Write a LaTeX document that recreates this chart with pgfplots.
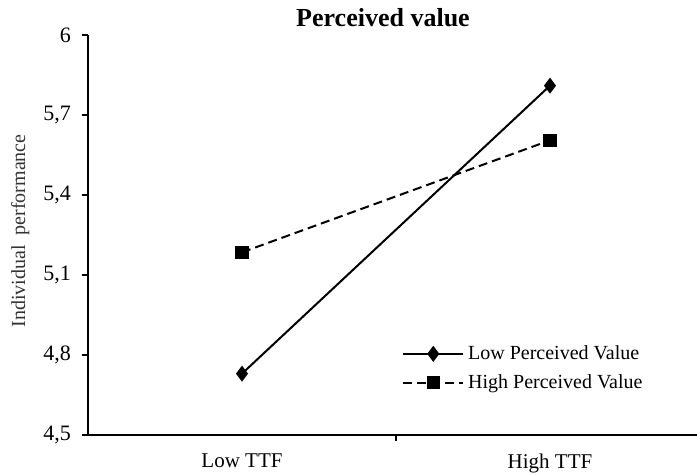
\documentclass[border=0pt]{standalone}
\usepackage{fontspec}
\setmainfont{Liberation Serif}
\usepackage{pgfplots}
\pgfplotsset{compat=1.18}
\begin{document}
\begin{tikzpicture}
\begin{axis}[
  name=ax,
  scale only axis,
  width=308pt, height=200pt,
  xmin=0.5, xmax=2.5,
  ymin=4.5, ymax=6,
  axis lines*=left,
  axis line style={line width=0.6pt},
  xtick={1,2},
  xticklabels={Low TTF, High TTF},
  minor xtick={1.5},
  major x tick style={draw=none},
  minor x tick style={black, line width=0.6pt},
  minor tick length=3pt,
  ytick={4.5,4.8,5.1,5.4,5.7,6},
  y tick style={black, line width=0.6pt},
  major tick length=3pt,
  tick align=outside,
  /pgf/number format/.cd, use comma, fixed, precision=1, assume math mode=true,
  /pgfplots/.cd,
  yticklabel style={font=\fontsize{11}{13}\selectfont, xshift=-2pt},
  xticklabel style={font=\fontsize{10.5}{12}\selectfont, yshift=-3pt},
  ylabel={Individual\ \ performance},
  ylabel style={at={(axis description cs:-0.11,0.51)}, anchor=center, font=\fontsize{10}{12}\selectfont, text=black!80},
  title={Perceived value},
  title style={at={(axis description cs:0.5,1)}, xshift=-6.5pt, yshift=-2pt, anchor=base, font=\bfseries\fontsize{13}{15}\selectfont},
  legend style={at={(axis description cs:0.5,0.245)}, anchor=north west, draw=none, fill=none, font=\fontsize{10}{12}\selectfont, row sep=2pt},
  legend cell align=left,
  legend image code/.code={\draw[mark repeat=2,mark phase=2,#1] plot coordinates {(0cm,0cm) (0.525cm,0cm) (1.05cm,0cm)};},
]
\addplot[black, line width=1pt, mark=diamond*, mark size=3.2pt, mark options={solid}] coordinates {(1,4.73) (2,5.81)};
\addlegendentry{Low Perceived Value}
\addplot[black, line width=1pt, dash pattern=on 4.5pt off 2.5pt, mark=square*, mark size=2.8pt, mark options={solid}] coordinates {(1,5.185) (2,5.605)};
\addlegendentry{High Perceived Value}
\end{axis}
\pgfresetboundingbox
\path[use as bounding box] ([xshift=-44pt,yshift=-20pt]ax.south west) rectangle ([xshift=-3.5pt,yshift=17.5pt]ax.north east);
\end{tikzpicture}
\end{document}
